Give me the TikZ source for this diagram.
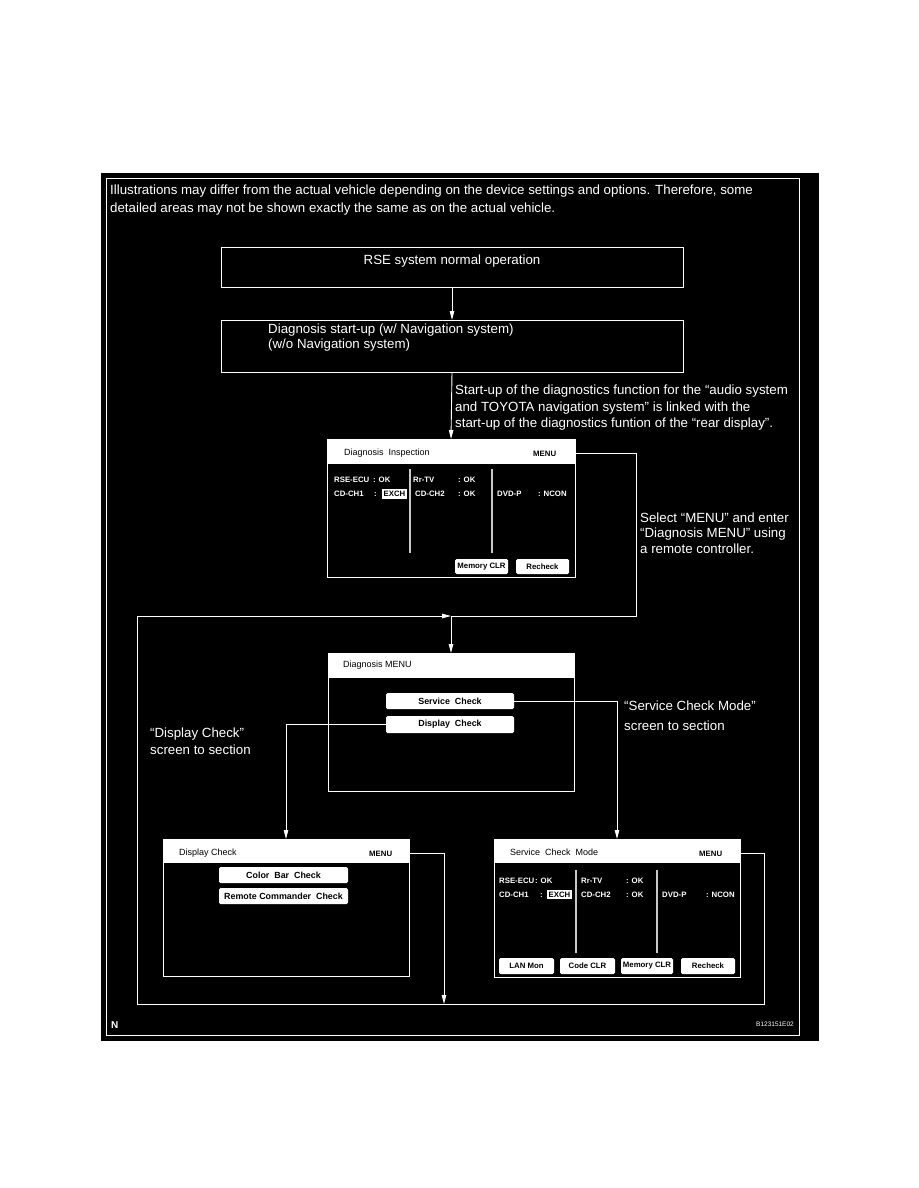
\documentclass[tikz,border=0pt]{standalone}
\usepackage{fontspec}
\setmainfont{Liberation Sans}
\usetikzlibrary{arrows.meta}
\newcommand\fMain{\fontsize{13.3}{16}\selectfont}
\newcommand\fHdr{\fontsize{9}{10}\selectfont}
\newcommand\fLab{\fontsize{7.8}{9}\selectfont\bfseries}
\newcommand\fBtn{\fontsize{7.8}{9}\selectfont\bfseries}
\newcommand\fBtnB{\fontsize{8.9}{10}\selectfont\bfseries}
\begin{document}
\begin{tikzpicture}[x=1pt,y=-1pt,
  wl/.style={draw=white, line width=0.9pt},
  arr/.style={wl, -{Triangle[width=4.5pt,length=9pt]}},
  mt/.style={text=white, font=\fMain, inner sep=0pt, anchor=base west},
  frame/.style={draw=white, line width=0.9pt, anchor=north west, inner sep=0pt, outer sep=0pt},
  hdr/.style={fill=white, anchor=north west, inner sep=0pt, outer sep=0pt},
  htxt/.style={text=black, font=\fHdr, inner sep=0pt, anchor=base west},
  mtxt/.style={text=black, font=\fLab, inner sep=0pt, anchor=base west},
  lab/.style={text=white, font=\fLab, inner sep=0pt, anchor=base west},
  btn/.style={fill=white, text=black, rounded corners=1.5pt, font=\fBtn, anchor=north west, inner sep=0pt, outer sep=0pt},
  btnb/.style={btn, font=\fBtnB},
  sepl/.style={draw=white!78!black, line width=1.4pt},
  exch/.style={fill=white, text=black, font=\fLab, anchor=north west, inner sep=0pt, outer sep=0pt}
]
% page and frame
\fill[white] (0,0) rectangle (918,1188);
\useasboundingbox (0,0) rectangle (918,1188);
\fill[black] (101,173) rectangle (819,1041);
\draw[white, line width=1pt] (106.5,178.5) rectangle (799.5,1035.5);

% notes
\node[mt] (n1) at (110,194) {Illustrations may differ from the actual vehicle depending on the device settings and options. Therefore, some};
\node[mt] (n2) at (110,212) {detailed areas may not be shown exactly the same as on the actual vehicle.};

% flow boxes
\node[frame, minimum width=462pt, minimum height=40pt] (rse) at (221,247) {};
\node[mt, anchor=base] (rset) at (452,264) {RSE system normal operation};
\node[frame, minimum width=462pt, minimum height=52pt] (dstart) at (221,320) {};
\node[mt] (dst1) at (268,333) {Diagnosis start-up (w/ Navigation system)};
\node[mt] (dst2) at (268,348) {(w/o Navigation system)};

\node[mt] (s1) at (455,394) {Start-up of the diagnostics function for the “audio system};
\node[mt] (s2) at (455,411) {and TOYOTA navigation system” is linked with the};
\node[mt] (s3) at (455,427) {start-up of the diagnostics funtion of the “rear display”.};

% Diagnosis Inspection screen
\node[frame, minimum width=248pt, minimum height=138pt] (insp) at (327,439) {};
\node[hdr, minimum width=248pt, minimum height=25pt] (insph) at (327,439) {};
\node[htxt] (inspt) at (344,455) {Diagnosis~~Inspection};
\node[mtxt] (imenu) at (533,456) {MENU};
\draw[sepl] (410,469) -- (410,553);
\draw[sepl] (492,469) -- (492,553);
\node[lab] (i1) at (334,482) {RSE-ECU};
\node[lab] (i2) at (373,482) {: OK};
\node[lab] (i3) at (413,482) {Rr-TV};
\node[lab] (i4) at (458,482) {: OK};
\node[lab] (i5) at (334,496) {CD-CH1};
\node[lab] (i6) at (374,496) {:};
\node[exch, minimum width=25pt, minimum height=10pt] (iex) at (382,489) {EXCH};
\node[lab] (i7) at (415,496) {CD-CH2};
\node[lab] (i8) at (458,496) {: OK};
\node[lab] (i9) at (497,496) {DVD-P};
\node[lab] (i10) at (538,496) {: NCON};
\node[btn, minimum width=53pt, minimum height=15pt] (imem) at (455,559) {Memory CLR};
\node[btn, minimum width=53pt, minimum height=15pt] (irec) at (516,559) {Recheck};

\node[mt] (m1) at (640,522) {Select “MENU” and enter};
\node[mt] (m2) at (640,537) {“Diagnosis MENU” using};
\node[mt] (m3) at (640,553) {a remote controller.};

% Diagnosis MENU screen
\node[frame, minimum width=246pt, minimum height=138pt] (dmenu) at (328,653) {};
\node[hdr, minimum width=246pt, minimum height=25pt] (dmenuh) at (328,653) {};
\node[htxt] (dmenut) at (343,667) {Diagnosis MENU};
\node[btnb, minimum width=128pt, minimum height=16pt] (bsc) at (386,693) {Service~~Check};
\node[btnb, minimum width=128pt, minimum height=17pt] (bdc) at (386,716) {Display~~Check};

\node[mt] (sc1) at (624,710) {“Service Check Mode”};
\node[mt] (sc2) at (624,730) {screen to section};
\node[mt] (dc1) at (150,737) {“Display Check”};
\node[mt] (dc2) at (150,754) {screen to section};

% Display Check screen
\node[frame, minimum width=246pt, minimum height=137pt] (dc) at (163,839) {};
\node[hdr, minimum width=246pt, minimum height=24pt] (dch) at (163,839) {};
\node[htxt] (dct) at (179,855) {Display Check};
\node[mtxt] (dcmenu) at (369,856) {MENU};
\node[btnb, minimum width=129pt, minimum height=16pt] (bcb) at (219,867) {Color~~Bar~~Check};
\node[btnb, minimum width=129pt, minimum height=16pt] (brc) at (219,888) {Remote Commander~~Check};

% Service Check Mode screen
\node[frame, minimum width=246pt, minimum height=138pt] (sc) at (494,839) {};
\node[hdr, minimum width=246pt, minimum height=24pt] (sch) at (494,839) {};
\node[htxt] (sct) at (510,855) {Service~~Check~~Mode};
\node[mtxt] (scmenu) at (699,856) {MENU};
\draw[sepl] (576,870) -- (576,953);
\draw[sepl] (657,870) -- (657,953);
\node[lab] (r1) at (499,883) {RSE-ECU};
\node[lab] (r2) at (535,883) {: OK};
\node[lab] (r3) at (581,883) {Rr-TV};
\node[lab] (r4) at (626,883) {: OK};
\node[lab] (r5) at (499,897) {CD-CH1};
\node[lab] (r6) at (540,897) {:};
\node[exch, minimum width=25pt, minimum height=9pt] (rex) at (547,890) {EXCH};
\node[lab] (r7) at (581,897) {CD-CH2};
\node[lab] (r8) at (626,897) {: OK};
\node[lab] (r9) at (662,897) {DVD-P};
\node[lab] (r10) at (706,897) {: NCON};
\node[btn, minimum width=55pt, minimum height=16pt] (blan) at (499,958) {LAN Mon};
\node[btn, minimum width=55pt, minimum height=16pt] (bcode) at (560,958) {Code CLR};
\node[btn, minimum width=52pt, minimum height=16pt] (bmem) at (621,958) {Memory CLR};
\node[btn, minimum width=54pt, minimum height=16pt] (brec) at (681,958) {Recheck};

% corner labels
\node[text=white, font=\fontsize{10}{12}\selectfont\bfseries, inner sep=0pt, anchor=base west] (nn) at (111,1028) {N};
\node[text=white, font=\fontsize{6.5}{8}\selectfont, inner sep=0pt, anchor=base east] (code) at (794,1026) {B123151E02};

% connectors
\coordinate (j1) at (451,616);
\coordinate (k1) at (636,616);
\coordinate (k2) at (764,1004);
\coordinate (k3) at (137,1004);
\coordinate (k4) at (137,616);
\coordinate (k5) at (444,1004);
\draw[arr] (rse.south) -- (dstart.north);
\draw[arr] (dstart.south) -- (insp.north);
\draw[wl] (insp.east |- imenu) -| (k1) -- (j1);
\draw[arr] (j1) -- (dmenu.north);
\draw[arr] (sc.east |- scmenu) -| (k2) -- (k3) -- (k4) -- (j1);
\draw[arr] (dc.east |- dcmenu) -| (k5);
\draw[arr] (bsc.east) -| (sc.north);
\draw[arr] (bdc.west) -| (dc.north);
\end{tikzpicture}
\end{document}
